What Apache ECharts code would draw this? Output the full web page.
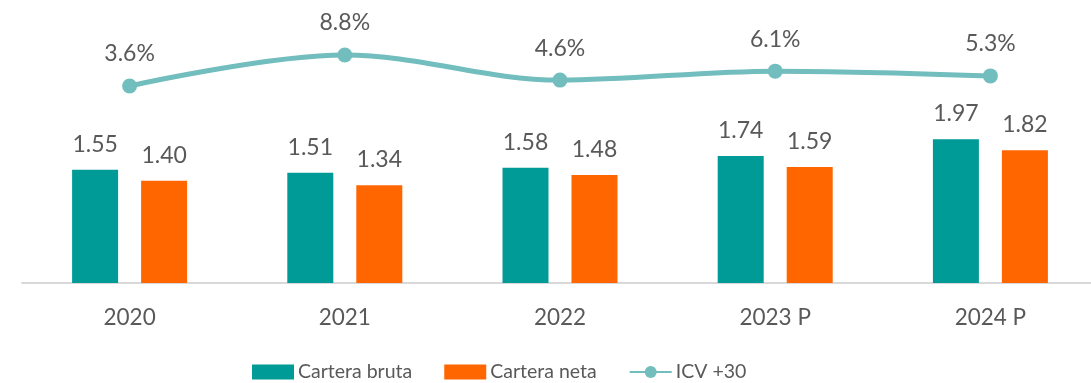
<!DOCTYPE html>
<html>
<head>
<meta charset="utf-8">
<script src="https://cdn.jsdelivr.net/npm/echarts@6/dist/echarts.min.js"></script>
<style>
  html, body { margin: 0; padding: 0; background: #ffffff; }
  #chart { width: 1091px; height: 383px; }
</style>
</head>
<body>
<div id="chart"></div>
<script>
// Portfolio figures per year (P = projected)
const categories = ['2020', '2021', '2022', '2023 P', '2024 P'];
const carteraBruta = [1.55, 1.51, 1.58, 1.74, 1.97];
const carteraNeta = [1.40, 1.34, 1.48, 1.59, 1.82];
const icv30 = [3.6, 8.8, 4.6, 6.1, 5.3];

const TEXT = '#595959';
const FONT = 'Lato, "Open Sans", sans-serif';

const chart = echarts.init(document.getElementById('chart'));

chart.setOption({
  animation: false,
  textStyle: { fontFamily: FONT },
  // the plot band runs a little past the right edge of the canvas
  grid: { left: 22, width: 1076, top: 10, bottom: 100, containLabel: false, outerBoundsMode: 'none' },
  legend: {
    left: 247,
    top: 357,
    itemWidth: 42,
    itemHeight: 15,
    itemGap: 32,
    textStyle: { color: TEXT, fontSize: 19.5, fontFamily: FONT, padding: [0, 0, 0, -1] },
    data: [
      { name: 'Cartera bruta', icon: 'rect' },
      { name: 'Cartera neta', icon: 'rect' },
      { name: 'ICV +30' }
    ]
  },
  xAxis: {
    type: 'category',
    data: categories,
    axisLine: { lineStyle: { color: '#D9D9D9', width: 2 } },
    axisTick: { show: false },
    axisLabel: { color: TEXT, fontSize: 22.5, fontFamily: FONT, margin: 23 }
  },
  yAxis: [
    { type: 'value', min: 0, max: 3.74, show: false, splitLine: { show: false } },
    { type: 'value', min: -29.45, max: 16.36, show: false, splitLine: { show: false } }
  ],
  series: [
    {
      name: 'Cartera bruta',
      type: 'bar',
      data: carteraBruta,
      barWidth: 46,
      barGap: '50%',
      itemStyle: { color: '#009A97' },
      label: {
        show: true, position: 'top', distance: 14,
        color: TEXT, fontSize: 23, fontFamily: FONT,
        formatter: p => p.value.toFixed(2)
      }
    },
    {
      name: 'Cartera neta',
      type: 'bar',
      data: carteraNeta,
      barWidth: 46,
      itemStyle: { color: '#FF6600' },
      label: {
        show: true, position: 'top', distance: 14,
        color: TEXT, fontSize: 23, fontFamily: FONT,
        formatter: p => p.value.toFixed(2)
      }
    },
    {
      name: 'ICV +30',
      type: 'line',
      yAxisIndex: 1,
      data: icv30,
      smooth: 0.35,
      symbol: 'circle',
      symbolSize: 15,
      lineStyle: { color: '#72BDBD', width: 5 },
      itemStyle: { color: '#72BDBD' },
      label: {
        show: true, position: 'top', distance: 13,
        color: TEXT, fontSize: 23, fontFamily: FONT,
        formatter: p => p.value.toFixed(1) + '%'
      }
    }
  ]
});
</script>
</body>
</html>
